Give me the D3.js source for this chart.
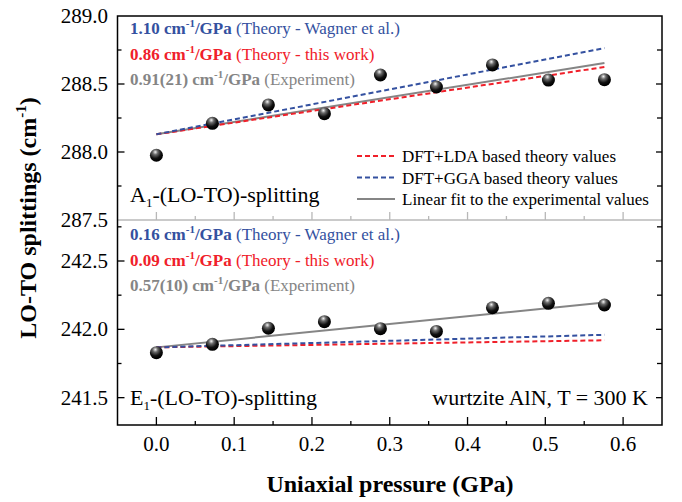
<!DOCTYPE html>
<html>
<head>
<meta charset="utf-8">
<script src="https://cdn.jsdelivr.net/npm/d3@7"></script>
<style>
  body { margin: 0; background: white; }
  text { font-family: "Liberation Serif", "Times New Roman", serif; }
</style>
</head>
<body>
<script>
// measured points (A1 and E1 LO-TO splitting vs uniaxial pressure)
var pressure = [0, 0.072, 0.144, 0.216, 0.288, 0.36, 0.432, 0.504, 0.576];
var a1Exp = [287.976, 288.211, 288.346, 288.282, 288.566, 288.478, 288.640, 288.529, 288.532];
var e1Exp = [241.829, 241.890, 242.008, 242.056, 242.005, 241.985, 242.158, 242.190, 242.178];

// line end points (start and end pressure)
var lineX = [0, 0.576];
var a1Lda = [288.13, 288.625];
var a1Gga = [288.13, 288.764];
var a1Fit = [288.13, 288.654];
var e1Lda = [241.868, 241.920];
var e1Gga = [241.868, 241.960];
var e1Fit = [241.868, 242.196];

var xTicks = [0, 0.1, 0.2, 0.3, 0.4, 0.5, 0.6];
var topTicks = [287.5, 288.0, 288.5, 289.0];
var botTicks = [241.5, 242.0, 242.5];

var a1Rates = ["1.10", "0.86", "0.91(21)"];
var e1Rates = ["0.16", "0.09", "0.57(10)"];
var rateNotes = ["(Theory - Wagner et al.)", "(Theory - this work)", "(Experiment)"];
var legendLabels = ["DFT+LDA based theory values", "DFT+GGA based theory values", "Linear fit to the experimental values"];

var red = "#f0202a", blue = "#3451a0", gray = "#858585";
var rateColors = [blue, red, gray];

var width = 682, height = 502;
var plotLeft = 117.5, plotRight = 662, plotTop = 16, plotMid = 220, plotBottom = 425;

var svg = d3.select("body").append("svg")
  .attr("width", width)
  .attr("height", height);

var x = d3.scaleLinear().domain([-0.05, 0.65]).range([plotLeft, plotRight]);
var yTop = d3.scaleLinear().domain([287.5, 289.0]).range([plotMid, plotTop]);
var yBot = d3.scaleLinear().domain([241.3, 242.8]).range([plotBottom, plotMid]);

// sphere look for the markers
var grad = svg.append("defs").append("radialGradient")
  .attr("id", "ball")
  .attr("cx", "40%").attr("cy", "30%").attr("r", "65%")
  .attr("fx", "42%").attr("fy", "25%");
grad.append("stop").attr("offset", "0%").attr("stop-color", "#f4f4f4");
grad.append("stop").attr("offset", "30%").attr("stop-color", "#6a6a6a");
grad.append("stop").attr("offset", "70%").attr("stop-color", "#111");
grad.append("stop").attr("offset", "100%").attr("stop-color", "#000");

// ticks: inward, major + minor
function yTicksInside(y, majors, minors) {
  var g = svg.append("g");
  majors.forEach(function(v) {
    g.append("line").attr("x1", plotLeft).attr("x2", plotLeft + 7).attr("y1", y(v)).attr("y2", y(v));
    g.append("line").attr("x1", plotRight).attr("x2", plotRight - 6).attr("y1", y(v)).attr("y2", y(v));
  });
  minors.forEach(function(v) {
    g.append("line").attr("x1", plotLeft).attr("x2", plotLeft + 4).attr("y1", y(v)).attr("y2", y(v));
    g.append("line").attr("x1", plotRight).attr("x2", plotRight - 5).attr("y1", y(v)).attr("y2", y(v));
  });
  g.selectAll("line").attr("stroke", "black").attr("stroke-width", 1.3);
}
yTicksInside(yTop, [288.0, 288.5], [287.75, 288.25, 288.75]);
yTicksInside(yBot, [241.5, 242.0, 242.5], [241.75, 242.25, 242.75]);

// x ticks on the divider (gray) and on the bottom axis
var xMinor = [0.05, 0.15, 0.25, 0.35, 0.45, 0.55];
[{y: plotMid, c: "#b8b8b8"}, {y: plotBottom, c: "black"}].forEach(function(a) {
  var g = svg.append("g");
  xTicks.forEach(function(v) {
    g.append("line").attr("x1", x(v)).attr("x2", x(v)).attr("y1", a.y).attr("y2", a.y - 8);
  });
  xMinor.forEach(function(v) {
    g.append("line").attr("x1", x(v)).attr("x2", x(v)).attr("y1", a.y).attr("y2", a.y - 4);
  });
  g.selectAll("line").attr("stroke", a.c).attr("stroke-width", 1.3);
});

// divider
svg.append("line")
  .attr("x1", plotLeft).attr("x2", plotRight).attr("y1", plotMid).attr("y2", plotMid)
  .attr("stroke", "#b8b8b8").attr("stroke-width", 1.5);

// frame
svg.append("rect")
  .attr("x", plotLeft).attr("y", plotTop)
  .attr("width", plotRight - plotLeft).attr("height", plotBottom - plotTop)
  .attr("fill", "none").attr("stroke", "black").attr("stroke-width", 1.5);

// tick labels
svg.append("g").selectAll("text").data(topTicks).enter().append("text")
  .attr("x", 108).attr("y", function(d) { return yTop(d) + 7; })
  .attr("text-anchor", "end").style("font-size", "21px")
  .text(function(d) { return d.toFixed(1); });
svg.append("g").selectAll("text").data(botTicks).enter().append("text")
  .attr("x", 108).attr("y", function(d) { return yBot(d) + 7; })
  .attr("text-anchor", "end").style("font-size", "21px")
  .text(function(d) { return d.toFixed(1); });
svg.append("g").selectAll("text").data(xTicks).enter().append("text")
  .attr("x", function(d) { return x(d); }).attr("y", 451)
  .attr("text-anchor", "middle").style("font-size", "21px")
  .text(function(d) { return d.toFixed(1); });

// lines
var line = function(y) {
  return d3.line().x(function(d, i) { return x(lineX[i]); }).y(function(d) { return y(d); });
};
function drawLine(vals, y, color, dashed) {
  svg.append("path").datum(vals)
    .attr("d", line(y))
    .attr("fill", "none")
    .attr("stroke", color)
    .attr("stroke-width", 2)
    .attr("stroke-dasharray", dashed ? "5,3" : null);
}
drawLine(a1Fit, yTop, gray, false);
drawLine(a1Lda, yTop, red, true);
drawLine(a1Gga, yTop, blue, true);
drawLine(e1Fit, yBot, gray, false);
drawLine(e1Lda, yBot, red, true);
drawLine(e1Gga, yBot, blue, true);

// experimental points
function drawPoints(vals, y) {
  svg.append("g").selectAll("circle").data(vals).enter().append("circle")
    .attr("cx", function(d, i) { return x(pressure[i]); })
    .attr("cy", function(d) { return y(d); })
    .attr("r", 6.5)
    .attr("fill", "url(#ball)");
}
drawPoints(a1Exp, yTop);
drawPoints(e1Exp, yBot);

// slope annotations
function rateText(rates, baselines) {
  rates.forEach(function(r, i) {
    var t = svg.append("text")
      .attr("x", 130).attr("y", baselines[i])
      .style("font-size", "17px")
      .attr("fill", rateColors[i]);
    t.append("tspan").style("font-weight", "bold").text(r + " cm");
    t.append("tspan").style("font-weight", "bold").style("font-size", "11px").attr("dy", -7).text("-1");
    t.append("tspan").style("font-weight", "bold").attr("dy", 7).text("/GPa ");
    t.append("tspan").text(rateNotes[i]);
  });
}
rateText(a1Rates, [34, 59.5, 85]);
rateText(e1Rates, [240, 265.5, 291]);

// legend
var leg = svg.append("g").attr("transform", "translate(357,156)");
[{c: red, d: true}, {c: blue, d: true}, {c: gray, d: false}].forEach(function(s, i) {
  leg.append("line")
    .attr("x1", 0).attr("x2", 38).attr("y1", i * 21.5).attr("y2", i * 21.5)
    .attr("stroke", s.c).attr("stroke-width", 2)
    .attr("stroke-dasharray", s.d ? "5,3" : null);
  leg.append("text")
    .attr("x", 45).attr("y", i * 21.5 + 6)
    .style("font-size", "17px")
    .text(legendLabels[i]);
});

// panel labels
function panelLabel(letter, yb) {
  var t = svg.append("text").attr("x", 130).attr("y", yb).style("font-size", "22px");
  t.append("tspan").text(letter);
  t.append("tspan").style("font-size", "13px").attr("dy", 5).text("1");
  t.append("tspan").attr("dy", -5).text("-(LO-TO)-splitting");
}
panelLabel("A", 201.5);
panelLabel("E", 405);

svg.append("text")
  .attr("x", 648).attr("y", 405)
  .attr("text-anchor", "end")
  .style("font-size", "22px")
  .text("wurtzite AlN, T = 300 K");

// axis titles
svg.append("text")
  .attr("x", 390).attr("y", 492)
  .attr("text-anchor", "middle")
  .style("font-size", "24px").style("font-weight", "bold")
  .text("Uniaxial pressure (GPa)");

var yl = svg.append("text")
  .attr("transform", "translate(36,218) rotate(-90)")
  .attr("text-anchor", "middle")
  .style("font-size", "24px").style("font-weight", "bold");
yl.append("tspan").text("LO-TO splittings (cm");
yl.append("tspan").style("font-size", "15px").attr("dy", -10).text("-1");
yl.append("tspan").attr("dy", 10).text(")");
</script>
</body>
</html>
